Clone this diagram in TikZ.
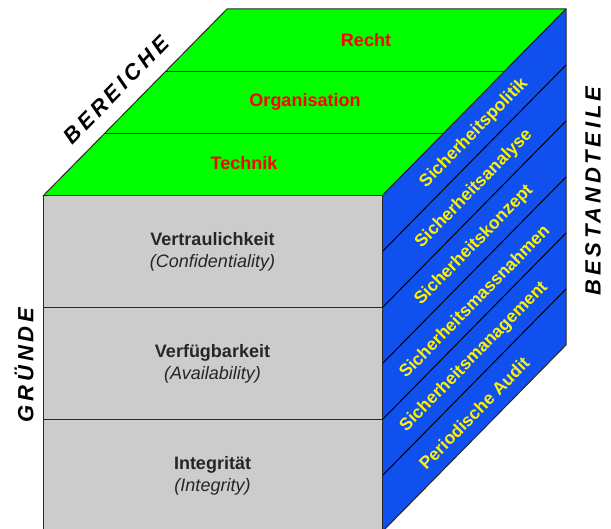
\documentclass[tikz,border=0pt]{standalone}
\usepackage{fontspec}
\setmainfont{Liberation Sans}
\usetikzlibrary{calc}
\definecolor{topgreen}{RGB}{0,255,0}
\definecolor{sideblue}{RGB}{16,80,238}
\definecolor{frontgray}{RGB}{204,204,204}
\definecolor{edge}{RGB}{40,40,40}
\begin{document}
\begin{tikzpicture}[x=1pt,y=-1pt,
  facedge/.style={draw=edge,line width=1pt,line join=round},
  toplabel/.style={font=\bfseries\fontsize{18}{21}\selectfont,text=red},
  frontlabel/.style={font=\fontsize{18}{22}\selectfont,align=center,text=black!85},
  sidelabel/.style={font=\bfseries\fontsize{17.5}{20}\selectfont,text=yellow,rotate=45.5},
  axislabel/.style={font=\bfseries\itshape\fontsize{22}{24}\selectfont\addfontfeatures{LetterSpace=17}}]
\useasboundingbox (0,0) rectangle (611,529);
\clip (0,0) rectangle (611,529);
% corners
\coordinate (A) at (43,196);
\coordinate (B) at (382,196);
\coordinate (C) at (382,532);
\coordinate (D) at (43,532);
\coordinate (E) at (227,9);
\coordinate (F) at (566,9);
\coordinate (G) at (566,345);
% top face
\fill[topgreen] (A) -- (B) -- (F) -- (E) -- cycle;
\foreach \t in {1,2}{
  \draw[facedge] ($(A)!\t/3!(E)$) -- ($(B)!\t/3!(F)$);
}
\draw[facedge] (A) -- (B) -- (F) -- (E) -- cycle;
% right face
\fill[sideblue] (B) -- (F) -- (G) -- (C) -- cycle;
\foreach \k in {1,...,5}{
  \draw[black,line width=1pt] ($(B)+(0,56*\k)$) -- ($(F)+(0,56*\k)$);
}
\draw[facedge] (B) -- (F) -- (G) -- (C) -- cycle;
% front face
\fill[frontgray] (A) -- (B) -- (C) -- (D) -- cycle;
\draw[facedge] (43,308) -- (382,308);
\draw[facedge] (43,420) -- (382,420);
\draw[facedge] (A) -- (B) -- (C) -- (D) -- cycle;
% top labels
\node[toplabel] (recht) at (366,40) {Recht};
\node[toplabel] (orga) at (305,102) {Organisation};
\node[toplabel] (tech) at (244,163) {Technik};
% front labels
\node[frontlabel] (vert) at (212.5,252) {\textbf{Vertraulichkeit}\\\textit{(Confidentiality)}};
\node[frontlabel] (verf) at (212.5,364) {\textbf{Verfügbarkeit}\\\textit{(Availability)}};
\node[frontlabel] (integ) at (212.5,476) {\textbf{Integrität}\\\textit{(Integrity)}};
% side labels
\node[sidelabel] (s1) at (474,133) {Sicherheitspolitik};
\node[sidelabel] (s2) at (474,189) {Sicherheitsanalyse};
\node[sidelabel] (s3) at (474,245) {Sicherheitskonzept};
\node[sidelabel] (s4) at (474,301) {Sicherheitsmassnahmen};
\node[sidelabel] (s5) at (474,357) {Sicherheitsmanagement};
\node[sidelabel] (s6) at (474,413) {Periodische Audit};
% axis labels
\node[axislabel,rotate=45.5] (bereiche) at (116,90) {BEREICHE};
\node[axislabel,rotate=90] (bestand) at (593,191) {BESTANDTEILE};
\node[axislabel,rotate=90] (gruende) at (24,365) {GRÜNDE};
\end{tikzpicture}
\end{document}
